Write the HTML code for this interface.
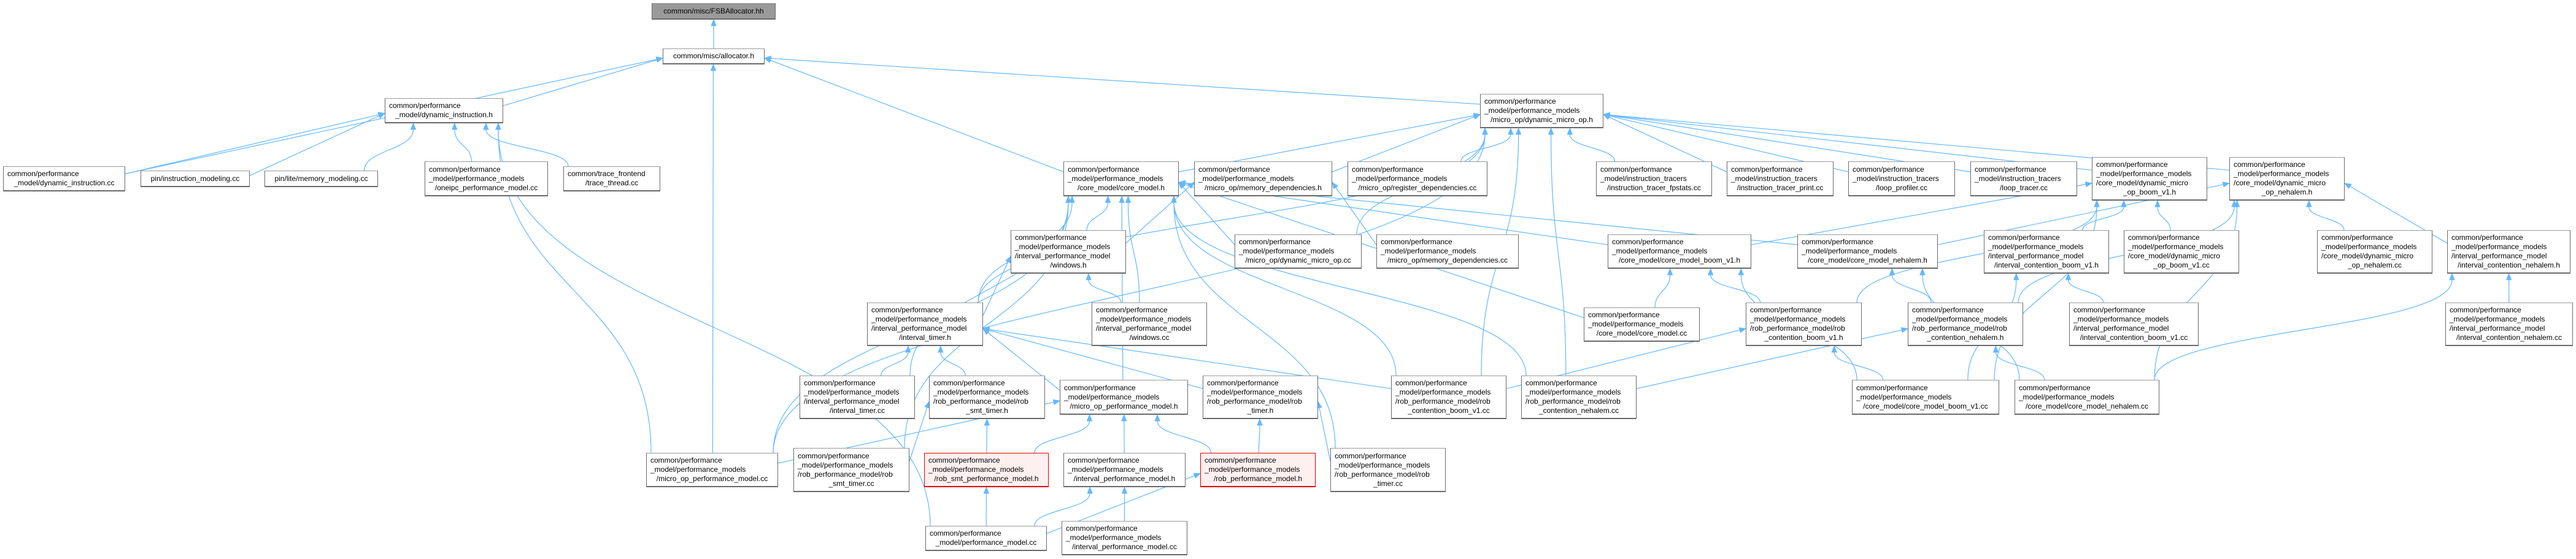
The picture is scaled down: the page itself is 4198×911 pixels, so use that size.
<!DOCTYPE html>
<html><head><meta charset="utf-8">
<style>
html,body{margin:0;padding:0;background:#fff;}
body{width:4198px;height:911px;position:relative;overflow:hidden;font-family:"Liberation Sans",Arial,sans-serif;}
.n{position:absolute;box-sizing:border-box;border:1px solid #6a6a6a;border-top-color:#9a9a9a;border-bottom:2px solid #6a6a6a;background:#fff;display:flex;flex-direction:column;justify-content:center;padding:0 6px;font-size:12px;line-height:15px;color:#000;white-space:nowrap;}
.n div{text-align:left;}
.n div:last-child{text-align:center;}
.g{background:#9a9a9a;}
.r{background:#fff0f0;border-color:#e00000;}
svg{position:absolute;left:0;top:0;}
</style></head><body>
<svg id="e" width="4198" height="911"></svg>

<div class="n g" style="left:1062px;top:5px;width:202px;height:27px"><div>common/misc/FSBAllocator.hh</div></div>
<div class="n" style="left:1080px;top:79px;width:166px;height:26px"><div>common/misc/allocator.h</div></div>
<div class="n" style="left:627px;top:160px;width:193px;height:41px"><div>common/performance</div><div>_model/dynamic_instruction.h</div></div>
<div class="n" style="left:5px;top:271px;width:199px;height:41px"><div>common/performance</div><div>_model/dynamic_instruction.cc</div></div>
<div class="n" style="left:229px;top:278px;width:178px;height:27px"><div>pin/instruction_modeling.cc</div></div>
<div class="n" style="left:431px;top:278px;width:185px;height:27px"><div>pin/lite/memory_modeling.cc</div></div>
<div class="n" style="left:692px;top:263px;width:201px;height:57px"><div>common/performance</div><div>_model/performance_models</div><div>/oneipc_performance_model.cc</div></div>
<div class="n" style="left:918px;top:271px;width:158px;height:41px"><div>common/trace_frontend</div><div>/trace_thread.cc</div></div>
<div class="n" style="left:2412px;top:153px;width:201px;height:56px"><div>common/performance</div><div>_model/performance_models</div><div>/micro_op/dynamic_micro_op.h</div></div>
<div class="n" style="left:1733px;top:263px;width:188px;height:57px"><div>common/performance</div><div>_model/performance_models</div><div>/core_model/core_model.h</div></div>
<div class="n" style="left:1946px;top:263px;width:225px;height:57px"><div>common/performance</div><div>_model/performance_models</div><div>/micro_op/memory_dependencies.h</div></div>
<div class="n" style="left:2196px;top:263px;width:228px;height:57px"><div>common/performance</div><div>_model/performance_models</div><div>/micro_op/register_dependencies.cc</div></div>
<div class="n" style="left:2601px;top:263px;width:189px;height:57px"><div>common/performance</div><div>_model/instruction_tracers</div><div>/instruction_tracer_fpstats.cc</div></div>
<div class="n" style="left:2814px;top:263px;width:174px;height:57px"><div>common/performance</div><div>_model/instruction_tracers</div><div>/instruction_tracer_print.cc</div></div>
<div class="n" style="left:3012px;top:263px;width:174px;height:57px"><div>common/performance</div><div>_model/instruction_tracers</div><div>/loop_profiler.cc</div></div>
<div class="n" style="left:3211px;top:263px;width:174px;height:57px"><div>common/performance</div><div>_model/instruction_tracers</div><div>/loop_tracer.cc</div></div>
<div class="n" style="left:3409px;top:256px;width:188px;height:71px"><div>common/performance</div><div>_model/performance_models</div><div>/core_model/dynamic_micro</div><div>_op_boom_v1.h</div></div>
<div class="n" style="left:3633px;top:256px;width:188px;height:71px"><div>common/performance</div><div>_model/performance_models</div><div>/core_model/dynamic_micro</div><div>_op_nehalem.h</div></div>
<div class="n" style="left:1647px;top:375px;width:188px;height:71px"><div>common/performance</div><div>_model/performance_models</div><div>/interval_performance_model</div><div>/windows.h</div></div>
<div class="n" style="left:2012px;top:382px;width:207px;height:56px"><div>common/performance</div><div>_model/performance_models</div><div>/micro_op/dynamic_micro_op.cc</div></div>
<div class="n" style="left:2243px;top:382px;width:232px;height:56px"><div>common/performance</div><div>_model/performance_models</div><div>/micro_op/memory_dependencies.cc</div></div>
<div class="n" style="left:2620px;top:382px;width:234px;height:56px"><div>common/performance</div><div>_model/performance_models</div><div>/core_model/core_model_boom_v1.h</div></div>
<div class="n" style="left:2929px;top:382px;width:229px;height:56px"><div>common/performance</div><div>_model/performance_models</div><div>/core_model/core_model_nehalem.h</div></div>
<div class="n" style="left:3233px;top:375px;width:204px;height:71px"><div>common/performance</div><div>_model/performance_models</div><div>/interval_performance_model</div><div>/interval_contention_boom_v1.h</div></div>
<div class="n" style="left:3461px;top:375px;width:188px;height:71px"><div>common/performance</div><div>_model/performance_models</div><div>/core_model/dynamic_micro</div><div>_op_boom_v1.cc</div></div>
<div class="n" style="left:3776px;top:375px;width:188px;height:71px"><div>common/performance</div><div>_model/performance_models</div><div>/core_model/dynamic_micro</div><div>_op_nehalem.cc</div></div>
<div class="n" style="left:3988px;top:375px;width:201px;height:71px"><div>common/performance</div><div>_model/performance_models</div><div>/interval_performance_model</div><div>/interval_contention_nehalem.h</div></div>
<div class="n" style="left:1413px;top:493px;width:189px;height:71px"><div>common/performance</div><div>_model/performance_models</div><div>/interval_performance_model</div><div>/interval_timer.h</div></div>
<div class="n" style="left:1779px;top:493px;width:188px;height:71px"><div>common/performance</div><div>_model/performance_models</div><div>/interval_performance_model</div><div>/windows.cc</div></div>
<div class="n" style="left:2581px;top:501px;width:189px;height:56px"><div>common/performance</div><div>_model/performance_models</div><div>/core_model/core_model.cc</div></div>
<div class="n" style="left:2845px;top:493px;width:189px;height:71px"><div>common/performance</div><div>_model/performance_models</div><div>/rob_performance_model/rob</div><div>_contention_boom_v1.h</div></div>
<div class="n" style="left:3109px;top:493px;width:188px;height:71px"><div>common/performance</div><div>_model/performance_models</div><div>/rob_performance_model/rob</div><div>_contention_nehalem.h</div></div>
<div class="n" style="left:3372px;top:493px;width:211px;height:71px"><div>common/performance</div><div>_model/performance_models</div><div>/interval_performance_model</div><div>/interval_contention_boom_v1.cc</div></div>
<div class="n" style="left:3985px;top:493px;width:208px;height:71px"><div>common/performance</div><div>_model/performance_models</div><div>/interval_performance_model</div><div>/interval_contention_nehalem.cc</div></div>
<div class="n" style="left:1303px;top:612px;width:188px;height:71px"><div>common/performance</div><div>_model/performance_models</div><div>/interval_performance_model</div><div>/interval_timer.cc</div></div>
<div class="n" style="left:1514px;top:612px;width:189px;height:71px"><div>common/performance</div><div>_model/performance_models</div><div>/rob_performance_model/rob</div><div>_smt_timer.h</div></div>
<div class="n" style="left:1727px;top:619px;width:209px;height:57px"><div>common/performance</div><div>_model/performance_models</div><div>/micro_op_performance_model.h</div></div>
<div class="n" style="left:1960px;top:612px;width:188px;height:71px"><div>common/performance</div><div>_model/performance_models</div><div>/rob_performance_model/rob</div><div>_timer.h</div></div>
<div class="n" style="left:2267px;top:612px;width:188px;height:71px"><div>common/performance</div><div>_model/performance_models</div><div>/rob_performance_model/rob</div><div>_contention_boom_v1.cc</div></div>
<div class="n" style="left:2479px;top:612px;width:188px;height:71px"><div>common/performance</div><div>_model/performance_models</div><div>/rob_performance_model/rob</div><div>_contention_nehalem.cc</div></div>
<div class="n" style="left:3018px;top:619px;width:240px;height:57px"><div>common/performance</div><div>_model/performance_models</div><div>/core_model/core_model_boom_v1.cc</div></div>
<div class="n" style="left:3283px;top:619px;width:236px;height:57px"><div>common/performance</div><div>_model/performance_models</div><div>/core_model/core_model_nehalem.cc</div></div>
<div class="n" style="left:1053px;top:738px;width:215px;height:56px"><div>common/performance</div><div>_model/performance_models</div><div>/micro_op_performance_model.cc</div></div>
<div class="n" style="left:1293px;top:730px;width:189px;height:72px"><div>common/performance</div><div>_model/performance_models</div><div>/rob_performance_model/rob</div><div>_smt_timer.cc</div></div>
<div class="n r" style="left:1506px;top:738px;width:203px;height:56px"><div>common/performance</div><div>_model/performance_models</div><div>/rob_smt_performance_model.h</div></div>
<div class="n" style="left:1733px;top:738px;width:199px;height:56px"><div>common/performance</div><div>_model/performance_models</div><div>/interval_performance_model.h</div></div>
<div class="n r" style="left:1956px;top:738px;width:188px;height:56px"><div>common/performance</div><div>_model/performance_models</div><div>/rob_performance_model.h</div></div>
<div class="n" style="left:2168px;top:730px;width:188px;height:72px"><div>common/performance</div><div>_model/performance_models</div><div>/rob_performance_model/rob</div><div>_timer.cc</div></div>
<div class="n" style="left:1508px;top:857px;width:198px;height:41px"><div>common/performance</div><div>_model/performance_model.cc</div></div>
<div class="n" style="left:1730px;top:849px;width:205px;height:56px"><div>common/performance</div><div>_model/performance_models</div><div>/interval_performance_model.cc</div></div>

<script>
var N={FSB:[1062,5,202,27],ALC:[1080,79,166,26],DIH:[627,160,193,41],DIC:[5,271,199,41],PIM:[229,278,178,27],PLM:[431,278,185,27],ONE:[692,263,201,57],TTC:[918,271,158,41],DMO:[2412,153,201,56],CMH:[1733,263,188,57],MDH:[1946,263,225,57],RDC:[2196,263,228,57],FPS:[2601,263,189,57],PRT:[2814,263,174,57],LPF:[3012,263,174,57],LTR:[3211,263,174,57],DBH:[3409,256,188,71],DNH:[3633,256,188,71],WIH:[1647,375,188,71],DMC:[2012,382,207,56],MDC:[2243,382,232,56],CBH:[2620,382,234,56],CNH:[2929,382,229,56],ICB:[3233,375,204,71],DBC:[3461,375,188,71],DNC:[3776,375,188,71],ICN:[3988,375,201,71],ITH:[1413,493,189,71],WIC:[1779,493,188,71],CMC:[2581,501,189,56],RCB:[2845,493,189,71],RCN:[3109,493,188,71],ICBC:[3372,493,211,71],ICNC:[3985,493,208,71],ITC:[1303,612,188,71],RSTH:[1514,612,189,71],MPH:[1727,619,209,57],RTH:[1960,612,188,71],RCBC:[2267,612,188,71],RCNC:[2479,612,188,71],CBC:[3018,619,240,57],CNC:[3283,619,236,57],MPC:[1053,738,215,56],RSTC:[1293,730,189,72],RSP:[1506,738,203,56],IPH:[1733,738,199,56],RPH:[1956,738,188,56],RTC:[2168,730,188,72],PMC:[1508,857,198,41],IPC:[1730,849,205,56]};
var E=[["ALC","FSB"],["DIC","ALC"],["DIH","ALC"],["CMH","ALC"],["DMO","ALC"],["MPC","ALC"],
["DIC","DIH"],["PIM","DIH"],["PLM","DIH"],["ONE","DIH"],["TTC","DIH"],["PMC","DIH"],["MPC","DIH"],
["CMH","DMO"],["MDH","DMO"],["RDC","DMO"],["FPS","DMO"],["PRT","DMO"],["LPF","DMO"],["LTR","DMO"],["DBH","DMO"],["DNH","DMO"],["DMC","DMO"],["ITH","DMO"],["MPC","DMO"],["RCBC","DMO"],["RCNC","DMO"],
["WIH","CMH"],["ITH","CMH"],["DMC","CMH"],["CMC","CMH"],["CBH","CMH"],["CNH","CMH"],["ITC","CMH"],["RSTC","CMH"],["MPH","CMH"],["RTC","CMH"],["RCBC","CMH"],["RCNC","CMH"],["WIC","CMH"],["MPC","CMH"],
["WIH","MDH"],["MDC","MDH"],["ITH","WIH"],["WIC","WIH"],
["ITC","ITH"],["RSTH","ITH"],["MPH","ITH"],["RTH","ITH"],["RCBC","ITH"],
["RSTC","RSTH"],["RSP","RSTH"],["RSP","MPH"],["IPH","MPH"],["RPH","MPH"],["MPC","MPH"],["RPH","RTH"],["RTC","RTH"],
["PMC","RSP"],["PMC","IPH"],["IPC","IPH"],["PMC","RPH"],
["CBH","DBH"],["ICB","DBH"],["DBC","DBH"],["CBC","DBH"],["RCB","DBH"],
["CNH","DNH"],["DNC","DNH"],["ICN","DNH"],["CNC","DNH"],["RCN","DNH"],
["CBC","CBH"],["RCB","CBH"],["CMC","CBH"],["CNC","CNH"],["RCN","CNH"],
["ICBC","ICB"],["CBC","ICB"],["ICNC","ICN"],["CNC","ICN"],["CBC","RCB"],["RCBC","RCB"],["CNC","RCN"],["RCNC","RCN"]];
var s='',C='#63b8ff';
function cl(v,a,b){return Math.max(a,Math.min(b,v));}
function f(v){return v.toFixed(1);}
E.forEach(function(e){var c=N[e[0]],p=N[e[1]];
var cx=c[0]+c[2]/2,px=p[0]+p[2]/2,x1,y1,x2,y2;
var dy=c[1]-(p[1]+p[3]);
if(Math.abs(px-cx)>4*Math.max(dy,20)){
 if(px<cx){x2=p[0]+p[2];x1=c[0];}else{x2=p[0];x1=c[0]+c[2];}
 y2=p[1]+p[3]*0.6;y1=c[1]+c[3]*0.3;
 var dx=x2-x1,dd=y2-y1,L=Math.sqrt(dx*dx+dd*dd),ux=dx/L,uy=dd/L;
 var bx=x2-ux*10,by=y2-uy*10;
 s+='<path d="M'+f(x1)+' '+f(y1)+' L'+f(bx)+' '+f(by)+'" stroke="'+C+'" stroke-width="1.2" fill="none"/>';
 s+='<polygon points="'+f(x2)+','+f(y2)+' '+f(bx-uy*4)+','+f(by+ux*4)+' '+f(bx+uy*4)+','+f(by-ux*4)+'" fill="'+C+'" stroke="'+C+'"/>';
}else{
 x1=cx+cl((px-cx)*0.35,-c[2]/2+8,c[2]/2-8);y1=c[1];
 x2=px+cl((cx-px)*0.25,-p[2]/2+8,p[2]/2-8);y2=p[1]+p[3];
 var by=y2+10,ym=(y1+by)/2;
 s+='<path d="M'+f(x1)+' '+f(y1)+' C'+f(x1)+' '+f(ym)+' '+f(x2)+' '+f(ym)+' '+f(x2)+' '+f(by)+'" stroke="'+C+'" stroke-width="1.2" fill="none"/>';
 s+='<polygon points="'+f(x2)+','+f(y2)+' '+f(x2-4)+','+f(by)+' '+f(x2+4)+','+f(by)+'" fill="'+C+'" stroke="'+C+'"/>';
}
});
document.getElementById('e').innerHTML=s;
</script>
</body></html>
